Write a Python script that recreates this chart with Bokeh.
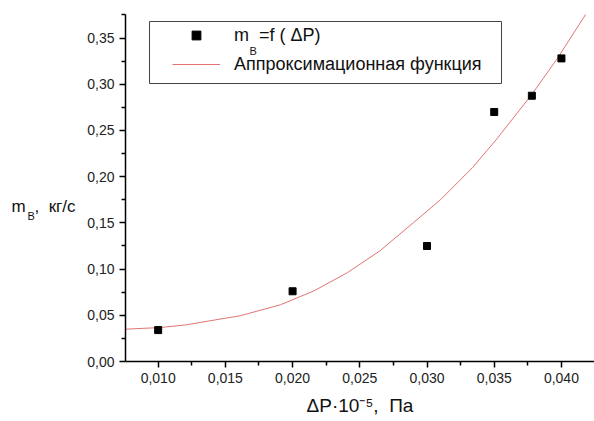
from bokeh.plotting import figure
from bokeh.models import (Range1d, FixedTicker, CustomJSTickFormatter, Legend,
                          LegendItem, Label, BoxAnnotation)
from bokeh.embed import file_html
from bokeh.resources import INLINE

# measured points m_B = f(dP)
dp_points = [0.010, 0.020, 0.030, 0.035, 0.0378, 0.040]
m_points = [0.034, 0.076, 0.125, 0.270, 0.2876, 0.328]

# approximation curve
fit_dp = [0.0075, 0.0102, 0.0121, 0.0146, 0.0161, 0.0191, 0.0216, 0.0241,
          0.0265, 0.0290, 0.0310, 0.0334, 0.0352, 0.0378, 0.0397, 0.0416, 0.0420]
fit_m = [0.0349, 0.0368, 0.0397, 0.0459, 0.0495, 0.0614, 0.0765, 0.0963,
         0.1198, 0.1504, 0.1750, 0.2100, 0.2410, 0.2890, 0.3280, 0.3710, 0.3800]

x_major = [0.010, 0.015, 0.020, 0.025, 0.030, 0.035, 0.040]
x_minor = [0.0075, 0.0125, 0.0175, 0.0225, 0.0275, 0.0325, 0.0375, 0.0425]
y_major = [0.00, 0.05, 0.10, 0.15, 0.20, 0.25, 0.30, 0.35]
y_minor = [0.025, 0.075, 0.125, 0.175, 0.225, 0.275, 0.325, 0.375]

NB = "\u00a0"
legend_points = "m" + NB + NB + "=f ( ΔP)"
legend_fit = "Аппроксимационная функция"
x_title = "ΔP·10⁻⁵," + NB + NB + "Па"
y_title_main = "m"
y_title_sub = "В"
y_title_unit = "," + NB + NB + "кг/с"

FONT = "Liberation Sans"

p = figure(width=594, height=421, output_backend="svg", toolbar_location=None,
           x_range=Range1d(0.00757, 0.04246), y_range=Range1d(0.0, 0.3755),
           min_border_left=125, min_border_right=0, min_border_top=14,
           min_border_bottom=60)
p.xgrid.visible = False
p.ygrid.visible = False
p.outline_line_color = None
p.background_fill_color = "white"
p.border_fill_color = "white"

for ax, maj, mnr, fmt in ((p.xaxis[0], x_major, x_minor, 3), (p.yaxis[0], y_major, y_minor, 2)):
    ax.ticker = FixedTicker(ticks=maj, minor_ticks=mnr)
    ax.formatter = CustomJSTickFormatter(code=f"return tick.toFixed({fmt}).replace('.', ',');")
    ax.axis_line_color = "black"
    ax.axis_line_width = 1.5
    ax.major_tick_line_width = 1.5
    ax.minor_tick_line_width = 1.5
    ax.major_tick_out = 6
    ax.major_tick_in = 0
    ax.minor_tick_out = 4
    ax.minor_tick_in = 0
    ax.major_label_text_font = FONT
    ax.major_label_text_font_size = "14px"
    ax.major_label_text_color = "#222222"
    ax.major_label_standoff = 5

p.xaxis[0].axis_label = x_title
p.xaxis[0].axis_label_text_font = FONT
p.xaxis[0].axis_label_text_font_size = "19px"
p.xaxis[0].axis_label_text_font_style = "normal"
p.xaxis[0].axis_label_text_color = "#111111"
p.xaxis[0].axis_label_standoff = 9

r_fit = p.line(fit_dp, fit_m, line_color="#e27474", line_width=1)
r_pts = p.scatter(dp_points, m_points, marker="square", size=7,
                  fill_color="black", line_color="black")

box = BoxAnnotation(left=24, right=376, top=340, bottom=278,
                    left_units="screen", right_units="screen",
                    top_units="screen", bottom_units="screen",
                    fill_color="white", fill_alpha=1.0,
                    line_color="#444444", line_width=1, line_alpha=1.0)
p.add_layout(box)

legend = Legend(items=[LegendItem(label=legend_points, renderers=[r_pts]),
                       LegendItem(label=legend_fit, renderers=[r_fit])],
                location=(47, 286), padding=0, spacing=7, margin=0,
                glyph_width=48, glyph_height=22, label_height=22,
                label_standoff=14, label_text_font=FONT,
                label_text_font_size="18px", label_text_color="#111111",
                border_line_color=None, background_fill_alpha=0.0)
p.add_layout(legend)

# legend subscript (inside the frame)
p.add_layout(Label(x=124, y=311, x_units="screen", y_units="screen", text=y_title_sub,
                   text_font=FONT, text_font_size="11px", text_color="#111111",
                   text_baseline="alphabetic"))


def side_lab(x, y, t, size):
    p.add_layout(Label(x=x, y=y, x_units="canvas", y_units="canvas", text=t,
                       text_font=FONT, text_font_size=size, text_color="#111111",
                       text_baseline="alphabetic", text_align="left"), "left")


# y axis title
side_lab(11, 206, y_title_main, "17px")
side_lab(27, 215, y_title_sub, "11px")
side_lab(34, 206, y_title_unit, "17px")

open("out.html", "w").write(file_html(p, INLINE))
